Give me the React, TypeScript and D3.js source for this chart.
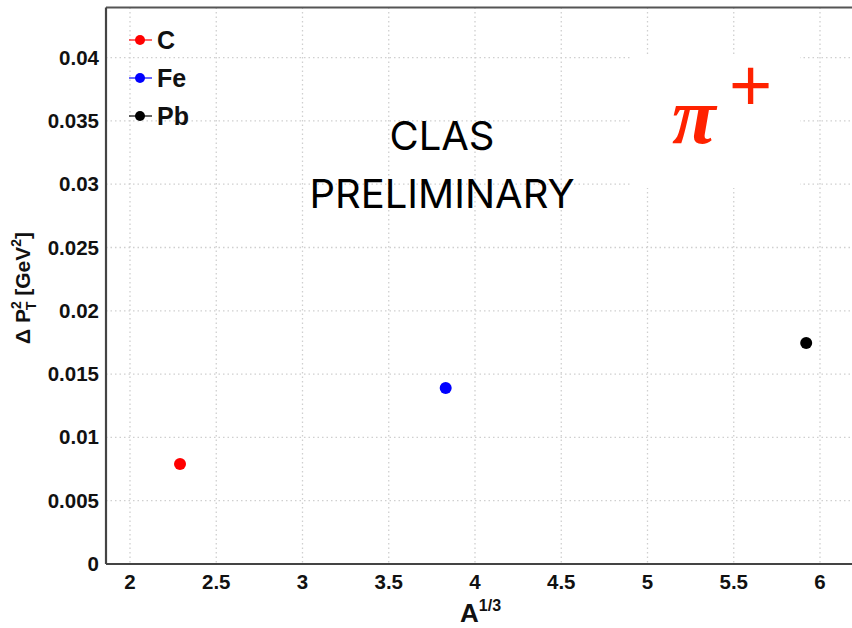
import React from "react";
import * as d3 from "d3";

const nuclei = ["C", "Fe", "Pb"];
const aThird = [2.29, 3.83, 5.92];
const deltaPt2 = [0.0079, 0.0139, 0.01745];
const colors = ["#ff0000", "#0000ff", "#000000"];
const xTicks = [2, 2.5, 3, 3.5, 4, 4.5, 5, 5.5, 6];
const yTicks = [0, 0.005, 0.01, 0.015, 0.02, 0.025, 0.03, 0.035, 0.04];

const W = 852, H = 628;
const L = 106, T = 7.5, B = 564;

export default function App() {
  const x = d3.scaleLinear().domain([2, 6]).range([130, 820]);
  const y = d3.scaleLinear().domain([0, 0.04]).range([B, 57.6]);
  const font = "'Liberation Sans', Arial, sans-serif";
  return (
    <svg width={W} height={H} style={{ display: "block", position: "absolute", left: 0, top: 0 }}>
      <rect x={0} y={0} width={W} height={H} fill="#fff" />
      {/* grid */}
      {xTicks.map((t) => (
        <line key={"gx" + t} x1={x(t)} x2={x(t)} y1={T} y2={B} stroke="#cfcfcf" strokeWidth={1.3} strokeDasharray="1.5,3" />
      ))}
      {yTicks.slice(1).map((t) => (
        <line key={"gy" + t} x1={L} x2={W} y1={y(t)} y2={y(t)} stroke="#cfcfcf" strokeWidth={1.3} strokeDasharray="1.5,3" />
      ))}
      {/* white box for pi+ */}
      <rect x={630} y={56} width={170} height={132} fill="#fff" />
      {/* frame */}
      <line x1={L} x2={W} y1={T} y2={T} stroke="#555" strokeWidth={2} />
      <line x1={L} x2={W} y1={B} y2={B} stroke="#444" strokeWidth={2.2} />
      <line x1={L} x2={L} y1={T} y2={B} stroke="#444" strokeWidth={2.2} />
      {/* ticks labels */}
      {yTicks.map((t) => (
        <text key={"yl" + t} x={99} y={y(t) + 7} textAnchor="end" fontFamily={font} fontWeight="bold" fontSize={20.5} fill="#111">
          {d3.format("")(t)}
        </text>
      ))}
      {xTicks.map((t) => (
        <text key={"xl" + t} x={x(t)} y={589} textAnchor="middle" fontFamily={font} fontWeight="bold" fontSize={20.5} fill="#111">
          {String(t)}
        </text>
      ))}
      {/* axis titles */}
      <text x={460} y={622} fontFamily={font} fontWeight="bold" fontSize={26} fill="#111">
        A<tspan dy={-11} fontSize={16}>1/3</tspan>
      </text>
      <text transform="translate(30,288) rotate(-90)" textAnchor="middle" fontFamily={font} fontWeight="bold" fontSize={21} fill="#111">
        Δ P<tspan dy={-9} fontSize={14}>2</tspan><tspan dx={-9} dy={15} fontSize={14}>T</tspan><tspan dy={-6}> [GeV</tspan><tspan dy={-9} fontSize={14}>2</tspan><tspan dy={9}>]</tspan>
      </text>
      {/* points */}
      {nuclei.map((n, i) => (
        <circle key={n} cx={x(aThird[i])} cy={y(deltaPt2[i])} r={6} fill={colors[i]} />
      ))}
      {/* legend */}
      {nuclei.map((n, i) => (
        <g key={"lg" + n} transform={`translate(0,${40 + i * 38})`}>
          <line x1={129} x2={152} y1={0} y2={0} stroke={colors[i]} strokeWidth={1.2} />
          <circle cx={140} cy={0} r={5} fill={colors[i]} />
          <text x={157} y={9} fontFamily={font} fontWeight="bold" fontSize={25} fill="#111">{n}</text>
        </g>
      ))}
      {/* CLAS PRELIMINARY */}
      <text x={442} y={150} textAnchor="middle" fontFamily="Inter, 'Open Sans', sans-serif" fontSize={40} fill="#000">CLAS</text>
      <text x={442} y={208} textAnchor="middle" fontFamily="Inter, 'Open Sans', sans-serif" fontSize={40} fill="#000">PRELIMINARY</text>
      {/* pi+ */}
      <text x={672} y={143} fontFamily="'Liberation Serif', 'Times New Roman', serif" fontStyle="italic" fontWeight="bold" fontSize={80} fill="#ff2200">π</text>
      <text x={729} y={111} fontFamily="'Liberation Sans', Arial, sans-serif" fontSize={74} fill="#ff2200">+</text>
    </svg>
  );
}
